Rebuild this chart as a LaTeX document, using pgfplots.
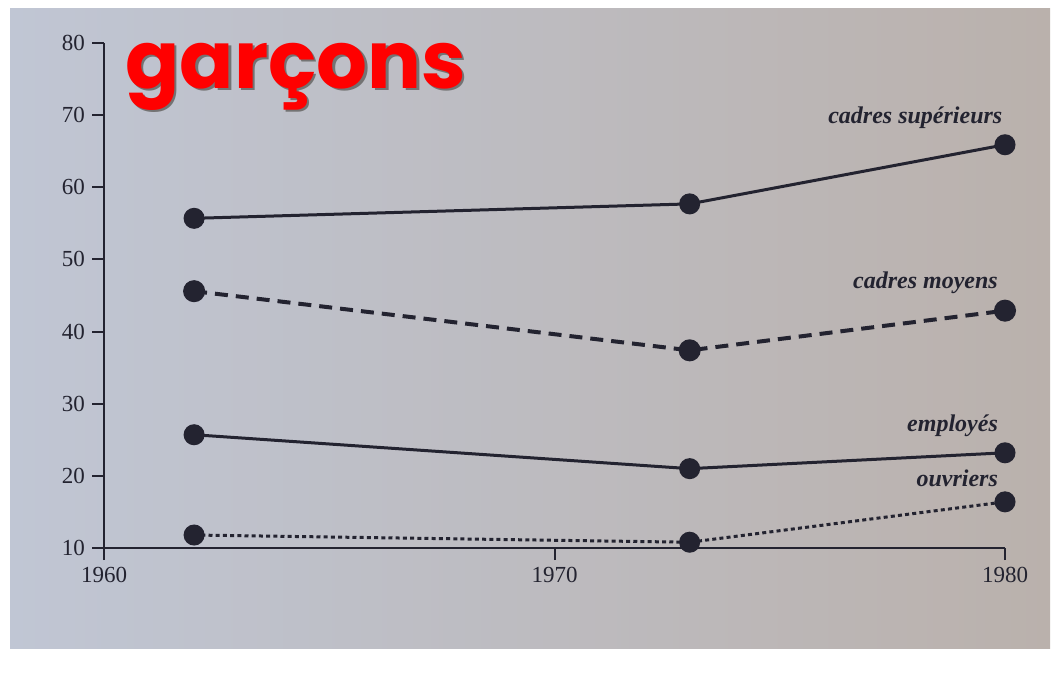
\documentclass[border=0pt]{standalone}
\usepackage{fontspec}
\setmainfont{Liberation Serif}
\newfontfamily\titlefont{Poppins}
\usepackage{pgfplots}
\pgfplotsset{compat=1.18}
\definecolor{ink}{RGB}{35,35,48}
\definecolor{bgl}{RGB}{192,198,212}
\definecolor{bgr}{RGB}{186,177,172}
\definecolor{titred}{RGB}{255,0,0}
\begin{document}
\begin{tikzpicture}[x=1pt,y=1pt]
\useasboundingbox (0,0) rectangle (527.5,338.5);
\fill[white] (0,0) rectangle (527.5,338.5);
\shade[left color=bgl, right color=bgr] (5,14.5) rectangle (525,334.5);
\begin{axis}[
  scale only axis, width=450.5pt, height=252.5pt,
  at={(52pt,64.5pt)}, anchor=south west,
  xmin=1960, xmax=1980, ymin=10, ymax=80,
  axis x line=bottom, axis y line=left,
  axis line style={-, line width=1pt, ink},
  xtick={1960,1970,1980}, ytick={10,20,...,80},
  tick align=outside, major tick length=6pt,
  tick style={line width=1pt, ink},
  /pgf/number format/assume math mode=true,
  xticklabel style={/pgf/number format/1000 sep={}},
  ticklabel style={font=\fontsize{11.5}{13}\selectfont, text=ink},
  clip=false,
  every axis plot/.append style={ink, mark=*, mark size=4.5pt, mark options={solid, fill=ink}},
]
\addplot[line width=1.5pt] coordinates {(1962,55.7) (1973,57.7) (1980,65.9)};
\addplot[line width=2pt, dash pattern=on 6.5pt off 4pt] coordinates {(1962,45.6) (1973,37.4) (1980,42.9)};
\addplot[line width=1.5pt] coordinates {(1962,25.7) (1973,21.0) (1980,23.2)};
\addplot[line width=1.5pt, dash pattern=on 2pt off 1.6pt] coordinates {(1962,11.8) (1973,10.8) (1980,16.4)};
\begin{scope}[every node/.style={anchor=east, inner sep=0pt, text=ink, font=\itshape\bfseries\fontsize{12}{14}\selectfont}]
\node at (axis cs:1979.95,69.7) {cadres supérieurs};
\node at (axis cs:1979.85,46.7) {cadres moyens};
\node at (axis cs:1979.85,26.9) {employés};
\node at (axis cs:1979.85,19.7) {ouvriers};
\end{scope}
\end{axis}
\node[anchor=base west, inner sep=0pt, text=black!55, font=\titlefont\bfseries\fontsize{40}{44}\selectfont] at (63.7,293.3) {garçons};
\node[anchor=base west, inner sep=0pt, text=titred, font=\titlefont\bfseries\fontsize{40}{44}\selectfont] at (62.5,294.5) {garçons};
\end{tikzpicture}
\end{document}
